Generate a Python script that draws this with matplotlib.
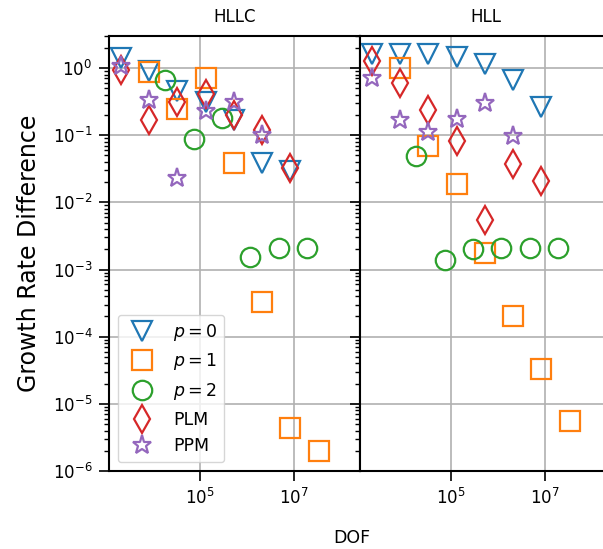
#!/usr/bin/env python3

"""Growth rate difference vs DOF for the HLLC and HLL Riemann solvers."""

import matplotlib

matplotlib.use("Agg")
import matplotlib.pyplot as plt
from matplotlib.ticker import LogLocator, NullLocator, NullFormatter

# DOF for each scheme
dof_fv = [2048, 8192, 32768, 131072, 524288, 2097152, 8388608]
dof_p1 = [8192, 32768, 131072, 524288, 2097152, 8388608, 33554432]
dof_p2 = [18432, 73728, 294912, 1179648, 4718592, 18874368]
dof_ppm = [2048, 8192, 32768, 131072, 524288, 2097152]

# HLLC results
hllc_p0 = [1.42, 0.90, 0.46, 0.31, 0.17, 0.038, 0.029]
hllc_p1 = [0.86, 0.244, 0.70, 0.039, 3.3e-4, 4.4e-6, 2.0e-6]
hllc_p2 = [0.67, 0.089, 0.18, 1.55e-3, 2.06e-3, 2.06e-3]
hllc_plm = [0.94, 0.17, 0.31, 0.41, 0.20, 0.12, 0.033]
hllc_ppm = [1.08, 0.33, 0.023, 0.23, 0.31, 0.10]

# HLL results
hll_p0 = [1.60, 1.60, 1.60, 1.47, 1.15, 0.67, 0.26]
hll_p1 = [0.99, 0.068, 0.0186, 1.78e-3, 2.0e-4, 3.3e-5, 5.6e-6]
hll_p2 = [0.049, 1.41e-3, 2.04e-3, 2.1e-3, 2.1e-3, 2.1e-3]
hll_plm = [1.29, 0.59, 0.24, 0.082, 5.4e-3, 0.037, 0.021]
hll_ppm = [0.70, 0.17, 0.112, 0.173, 0.30, 0.096]

labels = ["$p=0$", "$p=1$", "$p=2$", "PLM", "PPM"]
markers = ["v", "s", "o", "d", "*"]
colors = ["C0", "C1", "C2", "C3", "C4"]

W, H = 603, 549
fig = plt.figure(figsize=(W / 100, H / 100), dpi=100)
left, top, bottom, width = 109, 36, 471, 251
rect = [left / W, (H - bottom) / H, width / W, (bottom - top) / H]
ax1 = fig.add_axes(rect)
ax2 = fig.add_axes([(left + width) / W, rect[1], width / W, rect[3]], sharey=ax1)

panels = [
    (ax1, "HLLC", [hllc_p0, hllc_p1, hllc_p2, hllc_plm, hllc_ppm]),
    (ax2, "HLL", [hll_p0, hll_p1, hll_p2, hll_plm, hll_ppm]),
]
xs = [dof_fv, dof_p1, dof_p2, dof_fv, dof_ppm]

for ax, title, ys in panels:
    for x, y, lab, m, c in zip(xs, ys, labels, markers, colors):
        ax.plot(x, y, linestyle="none", marker=m, ms=14, mew=1.6,
                mfc="none", mec=c, label=lab)
    ax.set_xscale("log")
    ax.set_yscale("log")
    ax.set_xlim(10**3.064, 10**8.404)
    ax.set_ylim(1e-6, 3)
    ax.set_xticks([1e5, 1e7])
    ax.xaxis.set_minor_locator(NullLocator())
    ax.yaxis.set_major_locator(LogLocator(base=10, numticks=20))
    ax.yaxis.set_minor_locator(LogLocator(base=10, subs=range(2, 10), numticks=20))
    ax.yaxis.set_minor_formatter(NullFormatter())
    ax.grid(True, which="major", color="#b0b0b0", lw=1.2)
    ax.tick_params(which="major", length=7, width=1.2, labelsize=12, pad=5)
    ax.tick_params(which="minor", length=3.5, width=1.0)
    for s in ax.spines.values():
        s.set_linewidth(1.5)
    ax.set_title(title, fontsize=12, pad=10)

ax2.tick_params(axis="y", which="both", labelleft=False)
ax1.set_ylabel("Growth Rate Difference", fontsize=17, labelpad=8)
fig.text(351.5 / W, (H - 543) / H, "DOF", fontsize=12.5, ha="center", va="baseline")

ax1.legend(loc="lower left", fontsize=12.5)

fig.savefig("out.png", dpi=100)
